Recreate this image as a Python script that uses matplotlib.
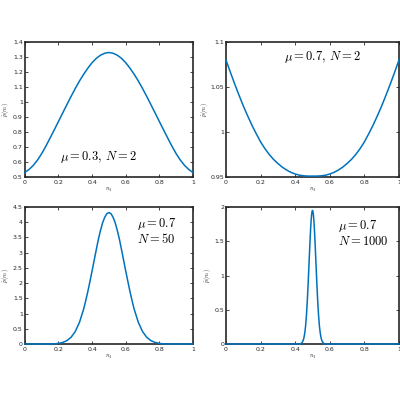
import matplotlib
matplotlib.use("Agg")
import matplotlib.pyplot as plt

plt.rcParams['mathtext.fontset'] = 'cm'
plt.rcParams['font.family'] = ['DejaVu Sans']

# ---- data ----
x_tl = [0, .025, .05, .075, .1, .125, .15, .175, .2, .225, .25, .275, .3, .325, .35, .375, .4, .425, .45, .475, .5,
        .525, .55, .575, .6, .625, .65, .675, .7, .725, .75, .775, .8, .825, .85, .875, .9, .925, .95, .975, 1]
y_tl = [0.530, 0.550, 0.577, 0.612, 0.655, 0.705, 0.759, 0.814, 0.870, 0.926, 0.982, 1.037, 1.090, 1.140, 1.185,
        1.226, 1.262, 1.291, 1.312, 1.325, 1.330,
        1.325, 1.312, 1.291, 1.262, 1.226, 1.185, 1.140, 1.090, 1.037, 0.982, 0.926, 0.870, 0.814, 0.759, 0.705,
        0.655, 0.612, 0.577, 0.550, 0.530]

x_tr = x_tl
y_tr = [1.080, 1.0665, 1.0535, 1.041, 1.029, 1.018, 1.0075, 0.998, 0.989, 0.9815, 0.975, 0.9695, 0.965, 0.961,
        0.9578, 0.9552, 0.9533, 0.952, 0.9513, 0.951, 0.951,
        0.951, 0.9513, 0.952, 0.9533, 0.9552, 0.9578, 0.961, 0.965, 0.9695, 0.975, 0.9815, 0.989, 0.998, 1.0075,
        1.018, 1.029, 1.041, 1.0535, 1.0665, 1.080]

x_bl = [0, .15, .175, .2, .225, .25, .275, .3, .325, .35, .3625, .375, .3875, .4, .4125, .425, .4375, .45, .4625,
        .475, .4875, .5, .5125, .525, .5375, .55, .5625, .575, .5875, .6, .6125, .625, .6375, .65, .675, .7, .725,
        .75, .775, .8, .825, .85, 1]
y_bl = [0, 0, 0.005, 0.02, 0.05, 0.11, 0.22, 0.41, 0.71, 1.15, 1.43, 1.73, 2.06, 2.40, 2.75, 3.10, 3.44, 3.73,
        3.98, 4.16, 4.28, 4.32, 4.28, 4.16, 3.98, 3.73, 3.44, 3.10, 2.75, 2.40, 2.06, 1.73, 1.43, 1.15, 0.71, 0.41,
        0.22, 0.11, 0.05, 0.02, 0.005, 0, 0]

x_br = [0, .43, .435, .44, .445, .45, .455, .46, .465, .47, .475, .48, .485, .4875, .49, .4925, .495, .4975, .5,
        .5025, .505, .5075, .51, .5125, .515, .52, .525, .53, .535, .54, .545, .55, .555, .56, .565, .57, 1]
y_br = [0, 0, 0.01, 0.022, 0.045, 0.085, 0.155, 0.26, 0.42, 0.63, 0.89, 1.18, 1.47, 1.60, 1.72, 1.82, 1.89, 1.935,
        1.95, 1.935, 1.89, 1.82, 1.72, 1.60, 1.47, 1.18, 0.89, 0.63, 0.42, 0.26, 0.155, 0.085, 0.045, 0.022, 0.01,
        0, 0]

xticks = [0, 0.2, 0.4, 0.6, 0.8, 1]
xtick_labels = ['0', '0.2', '0.4', '0.6', '0.8', '1']
yt_tl = [0.5, 0.6, 0.7, 0.8, 0.9, 1.0, 1.1, 1.2, 1.3, 1.4]
yl_tl = ['0.5', '0.6', '0.7', '0.8', '0.9', '1', '1.1', '1.2', '1.3', '1.4']
yt_tr = [0.95, 1.0, 1.05, 1.1]
yl_tr = ['0.95', '1', '1.05', '1.1']
yt_bl = [0, 0.5, 1, 1.5, 2, 2.5, 3, 3.5, 4, 4.5]
yl_bl = ['0', '0.5', '1', '1.5', '2', '2.5', '3', '3.5', '4', '4.5']
yt_br = [0, 0.5, 1, 1.5, 2]
yl_br = ['0', '0.5', '1', '1.5', '2']

ann_tl = [r'$\mu = 0.3,\, N = 2$']
ann_tr = [r'$\mu = 0.7,\, N = 2$']
ann_bl = [r'$\mu = 0.7$', r'$N = 50$']
ann_br = [r'$\mu = 0.7$', r'$N = 1000$']

BLUE = '#0072BD'
DARK = '#262626'

fig = plt.figure(figsize=(4, 4), dpi=100)


def make(rect, x, y, ylim, yt, yl, ann, ann_pos, ylab_x):
    ax = fig.add_axes(rect)
    ax.plot(x, y, color=BLUE, lw=1.1, clip_on=False, zorder=5)
    ax.set_xlim(0, 1)
    ax.set_ylim(*ylim)
    ax.set_xticks(xticks)
    ax.set_xticklabels(xtick_labels)
    ax.set_yticks(yt)
    ax.set_yticklabels(yl)
    ax.tick_params(direction='in', length=2, width=0.6, top=True, right=True,
                   labelsize=4.5, colors=DARK, pad=2)
    ax.tick_params(axis='y', pad=1.4)
    for s in ax.spines.values():
        s.set_linewidth(1.2)
        s.set_color(DARK)
    ax.set_xlabel(r'$n_1$', fontsize=4.5, labelpad=1, color=DARK)
    ax.set_ylabel(r'$\tilde{p}(n_1)$', fontsize=4.2, color=DARK)
    ax.yaxis.set_label_coords(ylab_x, 0.5)
    for (tx, ty, ha), t in zip(ann_pos, ann):
        ax.text(tx, ty, t, transform=ax.transAxes, fontsize=9, ha=ha, va='center', color='black')
    return ax


make([0.062, 0.5575, 0.4205, 0.3375], x_tl, y_tl, (0.5, 1.4), yt_tl, yl_tl, ann_tl,
     [(0.44, 0.15, 'center')], -0.082)
make([0.565, 0.5575, 0.4325, 0.3375], x_tr, y_tr, (0.95, 1.1), yt_tr, yl_tr, ann_tr,
     [(0.558, 0.89, 'center')], -0.092)
make([0.062, 0.14, 0.4205, 0.3425], x_bl, y_bl, (0, 4.5), yt_bl, yl_bl, ann_bl,
     [(0.67, 0.875, 'left'), (0.67, 0.77, 'left')], -0.082)
make([0.565, 0.14, 0.4325, 0.3425], x_br, y_br, (0, 2), yt_br, yl_br, ann_br,
     [(0.65, 0.86, 'left'), (0.65, 0.75, 'left')], -0.075)

fig.savefig('out.png', dpi=100)
